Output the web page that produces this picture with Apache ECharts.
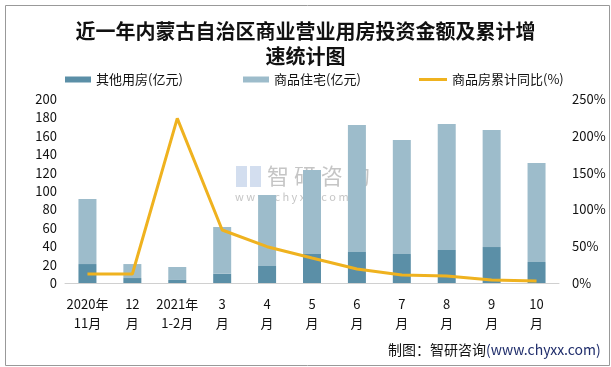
<!DOCTYPE html>
<html><head><meta charset="utf-8">
<script src="https://cdn.jsdelivr.net/npm/echarts@6/dist/echarts.min.js"></script>
<style>html,body{margin:0;padding:0;background:#fff}#c{width:611px;height:367px}</style>
</head><body><div id="c"></div>
<script>
var categories = ['2020年\n11月','12\n月','2021年\n1-2月','3\n月','4\n月','5\n月','6\n月','7\n月','8\n月','9\n月','10\n月'];
var otherHousing = [20.6, 5.4, 3.3, 10.1, 18.5, 31.5, 33.7, 31.5, 35.9, 39.1, 22.8];
var residential = [70.7, 15.2, 14.1, 50.8, 77.2, 91.3, 138.0, 123.9, 136.9, 127.2, 107.6];
var growthPct = [12.2, 12.2, 223.7, 72, 49.3, 34, 19, 10.9, 9.5, 4, 2.7];
var leftTicks = [0, 200, 20];
var rightTicks = [0, 250, 50];

var chart = echarts.init(document.getElementById('c'));
var font = '"Noto Sans CJK SC", "Noto Sans", sans-serif';
function lg(name, left, icon, w, h) {
  return {top: 68, left: left, itemWidth: w, itemHeight: h, icon: icon,
    textStyle: {fontSize: 13, color: '#111', fontFamily: font},
    data: [name]};
}
chart.setOption({
  animation: false,
  textStyle: {fontFamily: font},
  title: {
    text: '近一年内蒙古自治区商业营业用房投资金额及累计增\n速统计图',
    left: 'center', top: 14,
    textStyle: {fontFamily: '"Noto Sans CJK SC", serif', fontSize: 20, fontWeight: 'bold', color: '#111', lineHeight: 25}
  },
  legend: [
    lg('其他用房(亿元)', 60, 'rect', 26, 6),
    lg('商品住宅(亿元)', 238, 'rect', 26, 6),
    lg('商品房累计同比(%)', 414, 'path://M0,0 L28,0 L28,3 L0,3 Z', 28, 3)
  ],
  grid: {left: 65, right: 52, top: 99, bottom: 84},
  xAxis: {
    type: 'category', data: categories,
    axisLine: {lineStyle: {color: '#d0d0d0'}},
    axisTick: {show: false},
    axisLabel: {color: '#111', fontSize: 13, lineHeight: 19, interval: 0, margin: 12}
  },
  yAxis: [
    {type: 'value', min: leftTicks[0], max: leftTicks[1], interval: leftTicks[2],
     splitLine: {show: false}, axisLine: {show: false}, axisTick: {show: false},
     axisLabel: {color: '#111', fontSize: 13, margin: 8}},
    {type: 'value', min: rightTicks[0], max: rightTicks[1], interval: rightTicks[2],
     splitLine: {show: false}, axisLine: {show: false}, axisTick: {show: false},
     axisLabel: {color: '#111', fontSize: 13, formatter: '{value}%', margin: 13}}
  ],
  series: [
    {name: '其他用房(亿元)', type: 'bar', stack: 'a', data: otherHousing, barWidth: 18,
     itemStyle: {color: '#5b8fa7'}},
    {name: '商品住宅(亿元)', type: 'bar', stack: 'a', data: residential, barWidth: 18,
     itemStyle: {color: '#9dbccb'}},
    {name: '商品房累计同比(%)', type: 'line', yAxisIndex: 1, data: growthPct,
     symbol: 'none', lineStyle: {color: '#efb21f', width: 3}, itemStyle: {color: '#efb21f'}}
  ],
  graphic: [
    {type: 'rect', left: 3, top: 3, shape: {width: 604, height: 360}, style: {fill: 'none', stroke: '#999', lineWidth: 1}},
    {type: 'rect', left: 236, top: 166, shape: {width: 11, height: 21}, style: {fill: 'rgba(175,195,225,0.55)'}},
    {type: 'rect', left: 250, top: 166, shape: {width: 11, height: 21}, style: {fill: 'rgba(175,195,225,0.55)'}},
    {type: 'text', left: 267, top: 165, style: {text: '智 研 咨 询', fontSize: 22, fill: 'rgba(140,140,140,0.5)', fontFamily: font}},
    {type: 'text', left: 235, top: 191, style: {text: 'w w w . c h y x x . c o m', fontSize: 11, fill: 'rgba(140,140,140,0.5)', fontFamily: font}},
    {type: 'text', left: 388, top: 343, style: {
      text: '{a|制图：智研咨询}{b|(www.chyxx.com)}',
      rich: {a: {fontSize: 14, fill: '#111', fontFamily: font}, b: {fontSize: 14, fill: '#1f2d6b', fontFamily: font}}}}
  ]
});
</script></body></html>
